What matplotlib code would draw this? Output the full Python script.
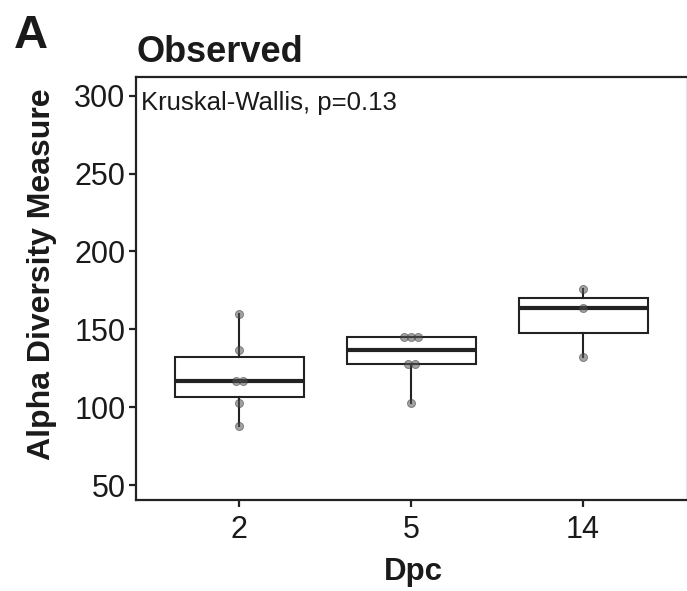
import matplotlib
matplotlib.use('Agg')
import matplotlib.pyplot as plt
import numpy as np

plt.rcParams['font.family'] = ['Liberation Sans', 'DejaVu Sans']

groups = ['2', '5', '14']
observed = [
    [160, 137, 117, 117, 103, 88],
    [145, 145, 145, 128, 128, 103],
    [176, 164, 132],
]
stat_label = 'Kruskal-Wallis, p=0.13'
yticks = [50, 100, 150, 200, 250, 300]


def spread(vals, center, step=0.04):
    # push tied values side by side, like the dodged points in the original
    xs = []
    for v in vals:
        n = vals.count(v)
        k = sum(1 for w in xs if w[1] == v)
        xs.append((center + (k - (n - 1) / 2) * step, v))
    return [x for x, _ in xs]


fig = plt.figure(figsize=(6.87, 5.91), dpi=100)
ax = fig.add_axes([136 / 687, 91 / 591, 552 / 687, 423 / 591])

pos = np.arange(1, len(groups) + 1)
ax.boxplot(observed, positions=pos, widths=0.75, whis=1.5,
           showcaps=False, showfliers=False, patch_artist=True,
           boxprops=dict(facecolor='white', edgecolor='#222222', linewidth=1.5),
           whiskerprops=dict(color='#222222', linewidth=1.5),
           medianprops=dict(color='#222222', linewidth=3))

for p, vals in zip(pos, observed):
    ax.scatter(spread(vals, p), vals, s=34, color='#555555', alpha=0.55,
               edgecolors='#333333', linewidths=0.6, zorder=3)

ax.set_xlim(0.4, 3.61)
ax.set_ylim(40.5, 312)
ax.set_xticks(pos)
ax.set_xticklabels(groups)
ax.set_yticks(yticks)
ax.tick_params(labelsize=22, width=1.6, length=5, color='#222222',
               labelcolor='#1a1a1a', pad=2.5)
ax.tick_params(axis='x', pad=5.5)
for s in ax.spines.values():
    s.set_linewidth(1.6)
    s.set_color('#222222')

ax.text(5 / 552, 390 / 423, stat_label, transform=ax.transAxes,
        ha='left', va='baseline', fontsize=18.5, color='#1a1a1a')

fig.text(137 / 687, 1 - 62 / 591, 'Observed', fontsize=26,
         fontweight='bold', va='baseline', color='#1a1a1a')
fig.text(14 / 687, 1 - 48 / 591, 'A', fontsize=34,
         fontweight='bold', va='baseline', color='#1a1a1a')
fig.text(42 / 687, 1 - 274 / 591, 'Alpha Diversity Measure', fontsize=23,
         fontweight='bold', rotation=90, ha='center', va='center',
         color='#1a1a1a')
fig.text(413 / 687, 1 - 580 / 591, 'Dpc', fontsize=22.5, fontweight='bold',
         ha='center', va='baseline', color='#1a1a1a')

fig.savefig('out.png', dpi=100)
